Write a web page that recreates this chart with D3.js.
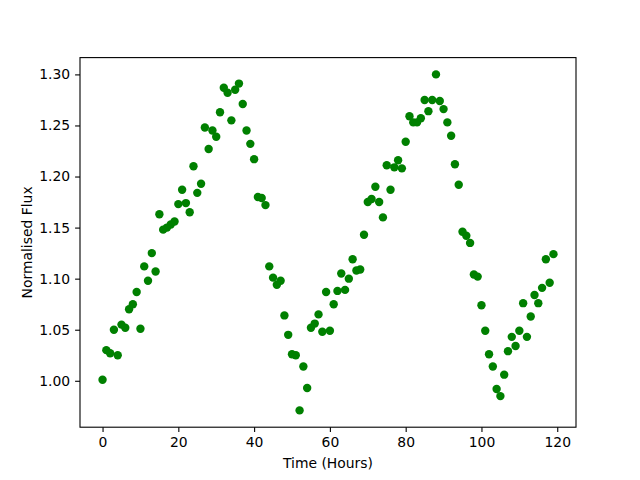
<!DOCTYPE html>
<html>
<head>
<meta charset="utf-8">
<script src="https://cdn.jsdelivr.net/npm/d3@7"></script>
<style>
  body { margin: 0; background: #fff; }
  svg { display: block; font-family: "DejaVu Sans", sans-serif; }
</style>
</head>
<body>
<div id="chart"></div>
<script>
// hourly flux readings, t = 0..119
const hours = d3.range(0, 120);
const flux = [
  1.001, 1.030, 1.027, 1.050, 1.025, 1.055, 1.052, 1.070, 1.075, 1.087,
  1.051, 1.112, 1.098, 1.125, 1.107, 1.163, 1.148, 1.150, 1.153, 1.156,
  1.173, 1.187, 1.174, 1.165, 1.210, 1.184, 1.193, 1.248, 1.227, 1.245,
  1.239, 1.263, 1.287, 1.282, 1.255, 1.285, 1.291, 1.271, 1.245, 1.232,
  1.217, 1.180, 1.179, 1.172, 1.112, 1.101, 1.094, 1.098, 1.064, 1.045,
  1.026, 1.025, 0.971, 1.014, 0.993, 1.052, 1.056, 1.065, 1.048, 1.087,
  1.049, 1.075, 1.088, 1.105, 1.089, 1.100, 1.119, 1.108, 1.109, 1.143,
  1.175, 1.178, 1.190, 1.175, 1.160, 1.211, 1.187, 1.209, 1.216, 1.208,
  1.234, 1.259, 1.253, 1.253, 1.257, 1.275, 1.264, 1.275, 1.300, 1.274,
  1.266, 1.253, 1.240, 1.212, 1.192, 1.146, 1.142, 1.135, 1.104, 1.102,
  1.074, 1.049, 1.026, 1.014, 0.992, 0.985, 1.006, 1.029, 1.043, 1.034,
  1.049, 1.076, 1.043, 1.063, 1.084, 1.076, 1.091, 1.119, 1.096, 1.124
];
const xTicks = [0, 20, 40, 60, 80, 100, 120];
const yTicks = [1.00, 1.05, 1.10, 1.15, 1.20, 1.25, 1.30];

const W = 640, H = 480;
const margin = { top: 57.6, right: 64, bottom: 52.8, left: 80 };
const width = W - margin.left - margin.right;
const height = H - margin.top - margin.bottom;

// matplotlib style 5% padding around the data
const xExt = d3.extent(hours), yExt = d3.extent(flux);
const xPad = (xExt[1] - xExt[0]) * 0.05, yPad = (yExt[1] - yExt[0]) * 0.05;

const x = d3.scaleLinear().domain([xExt[0] - xPad, xExt[1] + xPad]).range([0, width]);
const y = d3.scaleLinear().domain([yExt[0] - yPad, yExt[1] + yPad]).range([height, 0]);

const svg = d3.select('#chart').append('svg')
  .attr('width', W)
  .attr('height', H);

const chart = svg.append('g')
  .attr('transform', `translate(${margin.left}, ${margin.top})`);

chart.append('g')
  .selectAll('circle')
  .data(hours)
  .enter().append('circle')
  .attr('cx', d => x(d))
  .attr('cy', (d, i) => y(flux[i]))
  .attr('r', 4.2)
  .attr('fill', '#008000');

const xAxis = chart.append('g')
  .attr('transform', `translate(0, ${height})`)
  .call(d3.axisBottom(x).tickValues(xTicks).tickFormat(d3.format('d')).tickSize(4.9).tickPadding(4.9));

const yAxis = chart.append('g')
  .call(d3.axisLeft(y).tickValues(yTicks).tickFormat(d3.format('.2f')).tickSize(4.9).tickPadding(4.9));

[xAxis, yAxis].forEach(a => {
  a.select('.domain').remove();
  a.selectAll('line').attr('stroke', '#000').attr('stroke-width', 1.1);
  a.selectAll('text').attr('font-size', 13.9).attr('fill', '#000')
    .attr('font-family', '"DejaVu Sans", sans-serif');
});

// frame
chart.append('rect')
  .attr('width', width)
  .attr('height', height)
  .attr('fill', 'none')
  .attr('stroke', '#000')
  .attr('stroke-width', 1.1);

svg.append('text')
  .attr('x', margin.left + width / 2)
  .attr('y', 468)
  .attr('text-anchor', 'middle')
  .attr('font-size', 13.9)
  .text('Time (Hours)');

svg.append('text')
  .attr('transform', `translate(32, ${margin.top + height / 2}) rotate(-90)`)
  .attr('text-anchor', 'middle')
  .attr('font-size', 13.9)
  .text('Normalised Flux');
</script>
</body>
</html>
